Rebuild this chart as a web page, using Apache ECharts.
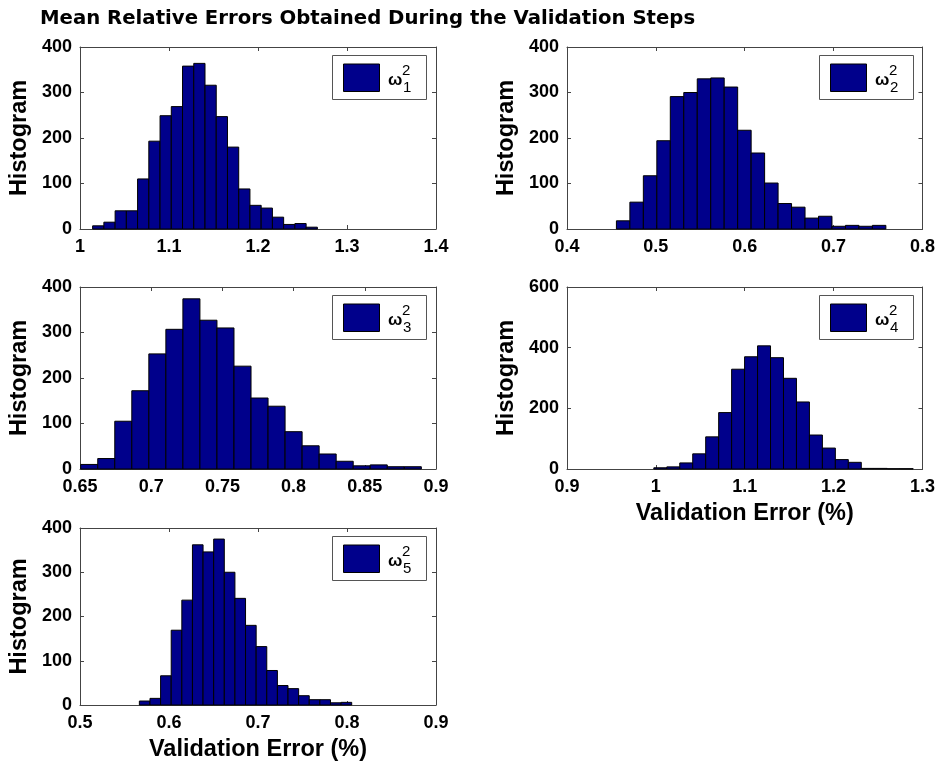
<!DOCTYPE html>
<html>
<head>
<meta charset="utf-8">
<script src="https://cdn.jsdelivr.net/npm/echarts/dist/echarts.min.js"></script>
<style>
  html, body { margin: 0; padding: 0; background: #ffffff; }
  #chart { width: 938px; height: 763px; }
</style>
</head>
<body>
<div id="chart"></div>
<script>
// Histogram counts of the mean relative validation error, 20 bins per parameter
const w1Counts = [7, 15, 40, 40, 110, 193, 249, 269, 358, 364, 316, 247, 180, 88, 52, 46, 26, 10, 12, 4];
const w1BinStart = 1.0142, w1BinWidth = 0.012625;

const w2Counts = [18, 59, 117, 194, 291, 300, 330, 332, 312, 217, 167, 101, 56, 48, 24, 28, 6, 8, 6, 8];
const w2BinStart = 0.4556, w2BinWidth = 0.01516;

const w3Counts = [10, 23, 105, 172, 253, 307, 374, 327, 310, 226, 156, 138, 82, 51, 33, 17, 7, 9, 5, 5];
const w3BinStart = 0.6505, w3BinWidth = 0.01196;

const w4Counts = [4, 7, 20, 50, 106, 186, 329, 370, 406, 367, 299, 221, 112, 69, 31, 22, 2, 2, 1, 1];
const w4BinStart = 0.9977, w4BinWidth = 0.01459;

const w5Counts = [9, 15, 66, 169, 237, 362, 346, 375, 300, 241, 180, 132, 78, 44, 37, 21, 12, 12, 5, 6];
const w5BinStart = 0.5667, w5BinWidth = 0.01193;

// Axis ranges: [min, max, interval]
const w1XAxis = [1.0, 1.4, 0.1],  w1YAxis = [0, 400, 100];
const w2XAxis = [0.4, 0.8, 0.1],  w2YAxis = [0, 400, 100];
const w3XAxis = [0.65, 0.9, 0.05], w3YAxis = [0, 400, 100];
const w4XAxis = [0.9, 1.3, 0.1],  w4YAxis = [0, 600, 200];
const w5XAxis = [0.5, 0.9, 0.1],  w5YAxis = [0, 400, 100];

const legendIndex = ['1', '2', '3', '4', '5'];
const chartTitle = 'Mean Relative Errors Obtained During the Validation Steps';
const yName = 'Histogram';
const xName = 'Validation Error (%)';

const FONT = '"Liberation Sans", Arial, Helvetica, sans-serif';
const TITLE_FONT = '"DejaVu Sans", Verdana, sans-serif';
const BAR = '#00008B';
const AXIS = '#444444';

const panels = [
  { counts: w1Counts, start: w1BinStart, width: w1BinWidth, xr: w1XAxis, yr: w1YAxis, left: 80,  top: 47,  xLabel: false },
  { counts: w2Counts, start: w2BinStart, width: w2BinWidth, xr: w2XAxis, yr: w2YAxis, left: 567, top: 47,  xLabel: false },
  { counts: w3Counts, start: w3BinStart, width: w3BinWidth, xr: w3XAxis, yr: w3YAxis, left: 80,  top: 287, xLabel: false },
  { counts: w4Counts, start: w4BinStart, width: w4BinWidth, xr: w4XAxis, yr: w4YAxis, left: 567, top: 287, xLabel: true },
  { counts: w5Counts, start: w5BinStart, width: w5BinWidth, xr: w5XAxis, yr: w5YAxis, left: 80,  top: 528, xLabel: true }
];
const GW = 356, GH = 182;

function binData(p) {
  return p.counts.map((c, i) => [p.start + i * p.width, p.start + (i + 1) * p.width, c]);
}

function renderBin(params, api) {
  const p0 = api.coord([api.value(0), api.value(2)]);
  const p1 = api.coord([api.value(1), 0]);
  const cs = params.coordSys;
  const shape = echarts.graphic.clipRectByRect(
    { x: p0[0], y: p0[1], width: p1[0] - p0[0], height: p1[1] - p0[1] },
    { x: cs.x, y: cs.y, width: cs.width, height: cs.height }
  );
  if (!shape) return null;
  return { type: 'rect', shape: shape, style: { fill: BAR, stroke: '#000000', lineWidth: 1 } };
}

const grid = [], xAxis = [], yAxis = [], series = [], graphic = [];

panels.forEach((p, i) => {
  grid.push({ left: p.left, top: p.top, width: GW, height: GH, containLabel: false });

  const tick = { show: true, inside: true, length: 4, lineStyle: { color: AXIS, width: 1 } };
  const line = { show: true, onZero: false, lineStyle: { color: AXIS, width: 1 } };
  const label = { show: true, color: '#000', fontFamily: FONT, fontWeight: 'bold', fontSize: 18 };
  const nameStyle = { color: '#000', fontFamily: FONT, fontWeight: 'bold', fontSize: 23.5 };

  xAxis.push({
    type: 'value', gridIndex: i, position: 'bottom',
    min: p.xr[0], max: p.xr[1], interval: p.xr[2],
    axisLine: line, axisTick: tick, splitLine: { show: false },
    axisLabel: Object.assign({ margin: 9 }, label),
    name: p.xLabel ? xName : '', nameLocation: 'middle', nameGap: 33,
    nameTextStyle: nameStyle
  });
  xAxis.push({
    type: 'value', gridIndex: i, position: 'top',
    min: p.xr[0], max: p.xr[1], interval: p.xr[2],
    axisLine: line, axisTick: tick, splitLine: { show: false }, axisLabel: { show: false }
  });
  yAxis.push({
    type: 'value', gridIndex: i, position: 'left',
    min: p.yr[0], max: p.yr[1], interval: p.yr[2],
    axisLine: line, axisTick: tick, splitLine: { show: false },
    axisLabel: Object.assign({ margin: 8 }, label),
    name: yName, nameLocation: 'middle', nameGap: 48, nameRotate: 90,
    nameTextStyle: nameStyle
  });
  yAxis.push({
    type: 'value', gridIndex: i, position: 'right',
    min: p.yr[0], max: p.yr[1], interval: p.yr[2],
    axisLine: line, axisTick: tick, splitLine: { show: false }, axisLabel: { show: false }
  });

  series.push({
    type: 'custom', name: 'ω' + legendIndex[i],
    xAxisIndex: 2 * i, yAxisIndex: 2 * i,
    renderItem: renderBin,
    encode: { x: [0, 1], y: 2 },
    data: binData(p),
    silent: true, animation: false
  });

  // legend box in the upper right corner of each panel
  const bw = 94, bh = 44;
  const bx = p.left + GW - 10 - bw, by = p.top + 8;
  graphic.push({
    type: 'group', left: bx, top: by,
    children: [
      { type: 'rect', shape: { x: 0, y: 0, width: bw, height: bh }, style: { fill: '#fff', stroke: '#555', lineWidth: 1 } },
      { type: 'rect', shape: { x: 11, y: 8.5, width: 36, height: 27.5 }, style: { fill: BAR, stroke: '#000', lineWidth: 1 } },
      { type: 'text', x: 55.5, y: 25, style: { text: 'ω', font: 'bold 17px ' + FONT, fill: '#000', verticalAlign: 'middle' } },
      { type: 'text', x: 69.5, y: 15.5, style: { text: '2', font: 'normal 15px ' + FONT, fill: '#000', verticalAlign: 'middle' } },
      { type: 'text', x: 70.5, y: 32.5, style: { text: legendIndex[i], font: 'normal 15px ' + FONT, fill: '#000', verticalAlign: 'middle' } }
    ]
  });
});

const chart = echarts.init(document.getElementById('chart'), null, { renderer: 'canvas' });
chart.setOption({
  backgroundColor: '#ffffff',
  animation: false,
  title: {
    text: chartTitle, left: 40, top: 9, padding: 0,
    textStyle: { color: '#000', fontFamily: TITLE_FONT, fontWeight: 'bold', fontSize: 19.7 }
  },
  grid: grid,
  xAxis: xAxis,
  yAxis: yAxis,
  series: series,
  graphic: graphic
});
</script>
</body>
</html>
